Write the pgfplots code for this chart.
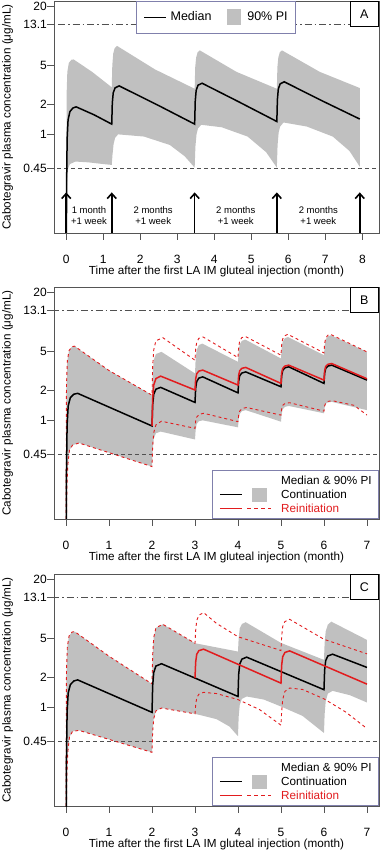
\documentclass[border=0pt]{standalone}
\usepackage{pgfplots}
\pgfplotsset{compat=1.18}
\usetikzlibrary{arrows.meta}
\usepackage{fontspec}
\setmainfont{Liberation Sans}

\definecolor{band}{RGB}{192,192,192}
\definecolor{rred}{RGB}{226,28,30}
\definecolor{legframe}{RGB}{128,128,172}
\definecolor{refline}{RGB}{80,80,80}
\definecolor{axframe}{RGB}{85,85,85}

\tikzset{
  refln/.style={refline, line width=0.8pt},
  medln/.style={line width=1.5pt},
  pidash/.style={rred, line width=0.9pt, dash pattern=on 3pt off 3pt},
  shotarrow/.style={black, line width=1.6pt, -{Straight Barb[length=5pt,width=9pt]}},
  paneltag/.style={draw=black, line width=0.8pt, fill=white, minimum width=28.5pt,
    minimum height=25.5pt, inner sep=0pt, font=\fontsize{12.5}{14}\selectfont},
  gap/.style={font=\fontsize{9.5}{10.7}\selectfont, align=center},
}

\begin{document}
\begin{tikzpicture}
\useasboundingbox (0pt,0pt) rectangle (380pt,850pt);

% ---------------- Panel A: loading dose then every 2 months + 1 week
\begin{axis}[at={(54pt,617pt)}, anchor=south west,
  scale only axis, width=325pt, height=232pt,
  ymode=log, ymin=0.1, ymax=22.5,
  ytick={0.45,1,2,5,13.1,20}, yticklabels={0.45,1,2,5,13.1,20},
  yminorticks=false,
  xmin=-0.33, xmax=8.45, xtick={0,1,2,3,4,5,6,7,8}, xticklabels={0,1,2,3,4,5,6,7,8},
  tick align=outside, major tick length=7pt,
  xtick pos=bottom, ytick pos=left,
  axis line style={axframe, line width=0.8pt},
  major tick style={axframe, line width=0.8pt},
  tick label style={font=\fontsize{12}{14}\selectfont},
  xticklabel style={inner sep=0pt, anchor=north, yshift=-15pt},
  yticklabel style={inner sep=0pt, anchor=east},
  xlabel style={font=\fontsize{11.7}{14}\selectfont, at={(axis description cs:0.5,-0.166)}, anchor=center},
  ylabel style={font=\fontsize{11.7}{14}\selectfont, at={(axis description cs:-0.143,0.5)}, anchor=center},
  xlabel={Time after the first LA IM gluteal injection (month)},
  ylabel={Cabotegravir plasma concentration (μg/mL)},
  legend columns=2,
  legend style={at={(0.497,1)}, anchor=north, draw=legframe, line width=0.8pt,
    fill=white, font=\fontsize{12.5}{15}\selectfont,
    inner xsep=7.3pt, inner ysep=8pt, column sep=0pt,
    /tikz/every odd column/.append style={column sep=4.3pt},
    /tikz/every even column/.append style={column sep=15pt},
    nodes={inner sep=0pt, text height=9pt, text depth=2.5pt}},
]
\addlegendimage{legend image code/.code={\draw[draw=black,line width=1.6pt,solid] (0pt,0pt) -- (21.3pt,0pt);}}
\addlegendentry{Median}
\addlegendimage{legend image code/.code={\path[draw=none,fill=none] (0pt,0pt) -- (16.4pt,0pt);
  \path[draw=none,fill=band] (0pt,-8pt) rectangle (14pt,8pt);}}
\addlegendentry{90\% PI}

% 90% prediction interval: upper bound, then lower bound backwards
\addplot[fill=band, draw=none, forget plot] coordinates {
 (0,0.1) (0.01,2.5) (0.03,4.3) (0.07,5.3) (0.14,5.7) (0.2,5.75) (0.7,4.3) (1.23,3.0)
 (1.245,5.0) (1.27,6.6) (1.31,7.5) (1.37,7.9) (2.4,4.55) (3.47,2.9)
 (3.485,4.8) (3.51,6.0) (3.55,6.8) (3.61,7.1) (4.6,4.3) (5.69,2.9)
 (5.705,4.8) (5.73,6.0) (5.77,6.8) (5.83,7.1) (6.85,4.3) (7.93,2.95)
 (7.93,0.47) (7.65,0.68) (7.2,0.95) (6.5,1.2) (5.87,1.32) (5.78,1.2) (5.74,1.05) (5.71,0.78)
 (5.69,0.46) (5.4,0.66) (4.9,0.95) (4.2,1.18) (3.65,1.25) (3.56,1.15) (3.52,1.0) (3.49,0.75)
 (3.47,0.46) (3.2,0.6) (2.8,0.78) (2.1,0.95) (1.4,1.0) (1.32,0.92) (1.28,0.8) (1.25,0.62)
 (1.23,0.49) (1.0,0.5) (0.6,0.52) (0.25,0.53) (0.1,0.5) (0.05,0.45) (0.02,0.3) (0,0.05)} -- cycle;

\addplot[refln, dash pattern=on 7pt off 3pt on 1.5pt off 3pt, forget plot] coordinates {(-1,13.1) (9,13.1)};
\addplot[refln, dash pattern=on 4pt off 3pt, forget plot] coordinates {(-1,0.45) (9,0.45)};

\addplot[medln, black, forget plot] coordinates {
 (0,0.02) (0.01,0.3) (0.025,0.9) (0.05,1.4) (0.1,1.7) (0.18,1.85) (0.27,1.9) (0.75,1.58) (1.23,1.27)
 (1.245,2.07) (1.27,2.64) (1.32,2.96) (1.43,3.1) (2.45,2.0) (3.47,1.27)
 (3.485,2.15) (3.51,2.78) (3.56,3.15) (3.67,3.3) (4.68,2.12) (5.69,1.35)
 (5.705,2.25) (5.73,2.89) (5.78,3.25) (5.89,3.41) (6.9,2.2) (7.93,1.43)};

% injection times
\addplot[shotarrow, forget plot] coordinates {(0,0.1) (0,0.258)};
\addplot[shotarrow, forget plot] coordinates {(1.23,0.1) (1.23,0.258)};
\addplot[shotarrow, forget plot] coordinates {(3.47,0.1) (3.47,0.258)};
\addplot[shotarrow, forget plot] coordinates {(5.69,0.1) (5.69,0.258)};
\addplot[shotarrow, forget plot] coordinates {(7.93,0.1) (7.93,0.258)};

\node[gap] at (axis cs:0.615,0.149) {1 month\\+1 week};
\node[gap] at (axis cs:2.35,0.149) {2 months\\+1 week};
\node[gap] at (axis cs:4.58,0.149) {2 months\\+1 week};
\node[gap] at (axis cs:6.81,0.149) {2 months\\+1 week};
\node[paneltag, anchor=north east] at (rel axis cs:1,1) {A};
\end{axis}

% ---------------- Panel B: monthly dosing, continuation vs reinitiation
\begin{axis}[at={(54pt,331pt)}, anchor=south west,
  scale only axis, width=325pt, height=232pt,
  ymode=log, ymin=0.1, ymax=22.5,
  ytick={0.45,1,2,5,13.1,20}, yticklabels={0.45,1,2,5,13.1,20},
  yminorticks=false,
  xmin=-0.28, xmax=7.28, xtick={0,1,2,3,4,5,6,7}, xticklabels={0,1,2,3,4,5,6,7},
  tick align=outside, major tick length=7pt,
  xtick pos=bottom, ytick pos=left,
  axis line style={axframe, line width=0.8pt},
  major tick style={axframe, line width=0.8pt},
  tick label style={font=\fontsize{12}{14}\selectfont},
  xticklabel style={inner sep=0pt, anchor=north, yshift=-15pt},
  yticklabel style={inner sep=0pt, anchor=east},
  xlabel style={font=\fontsize{11.7}{14}\selectfont, at={(axis description cs:0.5,-0.166)}, anchor=center},
  ylabel style={font=\fontsize{11.7}{14}\selectfont, at={(axis description cs:-0.143,0.5)}, anchor=center},
  xlabel={Time after the first LA IM gluteal injection (month)},
  ylabel={Cabotegravir plasma concentration (μg/mL)},
  legend cell align=left,
  legend style={at={(1,0)}, anchor=south east, draw=legframe, line width=0.8pt,
    fill=white, font=\fontsize{11.7}{14}\selectfont,
    inner xsep=7pt, inner ysep=3pt, row sep=0pt, column sep=0pt,
    /tikz/every odd column/.append style={column sep=10pt},
    nodes={inner sep=0pt, text height=10.5pt, text depth=3.5pt}},
]
\addlegendimage{empty legend}
\addlegendentry{Median \& 90\% PI}
\addlegendimage{legend image code/.code={\draw[draw=black,line width=1.6pt,solid] (0pt,0pt) -- (22.6pt,0pt);
  \path[draw=none,fill=band] (32pt,-7pt) rectangle (47.6pt,7pt);
  \path[draw=none,fill=none] (0pt,0pt) -- (51pt,0pt);}}
\addlegendentry{Continuation}
\addlegendimage{legend image code/.code={\draw[draw=rred,line width=1.6pt,solid] (0pt,0pt) -- (22.6pt,0pt);
  \draw[draw=rred,line width=0.9pt,dash pattern=on 3.5pt off 3.5pt] (27.3pt,0pt) -- (51pt,0pt);}}
\addlegendentry{\textcolor{rred}{Reinitiation}}

% continuation 90% PI: upper bound, then lower bound backwards
\addplot[fill=band, draw=none, forget plot] coordinates {
 (0,0.1) (0.01,2.2) (0.03,4.0) (0.07,5.1) (0.14,5.6) (0.2,5.65) (1.0,3.2) (2,1.8)
 (2.015,3.0) (2.04,4.1) (2.09,4.7) (2.22,4.95) (3,2.99)
 (3.015,4.2) (3.04,5.2) (3.09,5.8) (3.17,6.0) (4,3.92)
 (4.015,5.0) (4.04,5.9) (4.09,6.4) (4.17,6.59) (5,4.24)
 (5.015,5.4) (5.04,6.3) (5.09,6.8) (5.16,7.0) (6,4.58)
 (6.015,5.7) (6.04,6.6) (6.09,7.1) (6.16,7.3) (7,4.95)
 (7,1.27) (6.18,1.54) (6.09,1.52) (6.04,1.47) (6.015,1.35) (6,1.18)
 (5.18,1.4) (5.09,1.37) (5.04,1.3) (5.015,1.15) (5,0.97)
 (4.18,1.27) (4.09,1.24) (4.04,1.16) (4.015,1.02) (4,0.85)
 (3.18,1.0) (3.09,0.98) (3.04,0.92) (3.015,0.8) (3,0.64)
 (2.2,0.77) (2.09,0.74) (2.04,0.65) (2.015,0.5) (2,0.34)
 (0.3,0.59) (0.15,0.56) (0.08,0.5) (0.04,0.35) (0.02,0.2) (0,0.05)} -- cycle;

\addplot[refln, dash pattern=on 7pt off 3pt on 1.5pt off 3pt, forget plot] coordinates {(-1,13.1) (9,13.1)};
\addplot[refln, dash pattern=on 4pt off 3pt, forget plot] coordinates {(-1,0.45) (9,0.45)};

% reinitiation 90% PI
\addplot[pidash, forget plot] coordinates {
 (0,0.1) (0.01,2.2) (0.03,4.0) (0.07,5.1) (0.14,5.6) (0.2,5.65) (1.0,3.2) (2,1.8)
 (2.015,3.5) (2.04,5.2) (2.09,6.4) (2.25,6.9) (3,4.07)
 (3.015,5.3) (3.04,6.2) (3.09,6.8) (3.19,7.0) (4,4.33)
 (4.015,5.5) (4.04,6.4) (4.09,6.9) (4.17,7.1) (5,4.58)
 (5.015,5.8) (5.04,6.7) (5.09,7.2) (5.16,7.46) (6,4.83)
 (6.015,6.0) (6.04,6.8) (6.09,7.3) (6.15,7.46) (7,4.95)};
\addplot[pidash, forget plot] coordinates {
 (0,0.05) (0.02,0.2) (0.04,0.35) (0.08,0.5) (0.15,0.56) (0.3,0.59) (2,0.34)
 (2.015,0.55) (2.04,0.75) (2.09,0.9) (2.22,0.98) (3,0.83)
 (3.015,0.98) (3.04,1.08) (3.1,1.15) (3.2,1.18) (4,0.97)
 (4.015,1.12) (4.04,1.24) (4.1,1.32) (4.2,1.35) (5,1.13)
 (5.015,1.3) (5.04,1.42) (5.1,1.49) (5.2,1.51) (6,1.24)
 (6.015,1.4) (6.04,1.5) (6.1,1.56) (6.2,1.58) (6.7,1.42) (7,1.13)};

\addplot[medln, black, forget plot] coordinates {
 (0,0.02) (0.01,0.3) (0.025,0.9) (0.05,1.4) (0.1,1.7) (0.18,1.84) (0.27,1.88) (2,0.877)
 (2.015,1.44) (2.04,1.84) (2.09,2.07) (2.2,2.16) (3,1.52)
 (3.015,2.11) (3.04,2.48) (3.09,2.68) (3.18,2.76) (4,1.9)
 (4.015,2.49) (4.04,2.84) (4.09,3.02) (4.18,3.1) (5,2.19)
 (5.015,2.83) (5.04,3.21) (5.09,3.41) (5.18,3.49) (6,2.37)
 (6.015,3.0) (6.04,3.36) (6.09,3.55) (6.18,3.63) (7,2.56)};
\addplot[medln, rred, forget plot] coordinates {
 (2,0.877) (2.015,1.66) (2.04,2.28) (2.09,2.65) (2.2,2.81) (3,2.03)
 (3.015,2.62) (3.04,2.97) (3.09,3.16) (3.18,3.23) (4,2.28)
 (4.015,2.86) (4.04,3.19) (4.09,3.37) (4.18,3.44) (5,2.37)
 (5.015,3.0) (5.04,3.36) (5.09,3.55) (5.18,3.63) (6,2.56)
 (6.015,3.17) (6.04,3.52) (6.09,3.7) (6.18,3.77) (7,2.64)};
\node[paneltag, anchor=north east] at (rel axis cs:1,1) {B};
\end{axis}

% ---------------- Panel C: every 2 months, continuation vs reinitiation
\begin{axis}[at={(54pt,44pt)}, anchor=south west,
  scale only axis, width=325pt, height=232pt,
  ymode=log, ymin=0.1, ymax=22.5,
  ytick={0.45,1,2,5,13.1,20}, yticklabels={0.45,1,2,5,13.1,20},
  yminorticks=false,
  xmin=-0.28, xmax=7.28, xtick={0,1,2,3,4,5,6,7}, xticklabels={0,1,2,3,4,5,6,7},
  tick align=outside, major tick length=7pt,
  xtick pos=bottom, ytick pos=left,
  axis line style={axframe, line width=0.8pt},
  major tick style={axframe, line width=0.8pt},
  tick label style={font=\fontsize{12}{14}\selectfont},
  xticklabel style={inner sep=0pt, anchor=north, yshift=-15pt},
  yticklabel style={inner sep=0pt, anchor=east},
  xlabel style={font=\fontsize{11.7}{14}\selectfont, at={(axis description cs:0.5,-0.166)}, anchor=center},
  ylabel style={font=\fontsize{11.7}{14}\selectfont, at={(axis description cs:-0.143,0.5)}, anchor=center},
  xlabel={Time after the first LA IM gluteal injection (month)},
  ylabel={Cabotegravir plasma concentration (μg/mL)},
  legend cell align=left,
  legend style={at={(1,0)}, anchor=south east, draw=legframe, line width=0.8pt,
    fill=white, font=\fontsize{11.7}{14}\selectfont,
    inner xsep=7pt, inner ysep=3pt, row sep=0pt, column sep=0pt,
    /tikz/every odd column/.append style={column sep=10pt},
    nodes={inner sep=0pt, text height=10.5pt, text depth=3.5pt}},
]
\addlegendimage{empty legend}
\addlegendentry{Median \& 90\% PI}
\addlegendimage{legend image code/.code={\draw[draw=black,line width=1.6pt,solid] (0pt,0pt) -- (22.6pt,0pt);
  \path[draw=none,fill=band] (32pt,-7pt) rectangle (47.6pt,7pt);
  \path[draw=none,fill=none] (0pt,0pt) -- (51pt,0pt);}}
\addlegendentry{Continuation}
\addlegendimage{legend image code/.code={\draw[draw=rred,line width=1.6pt,solid] (0pt,0pt) -- (22.6pt,0pt);
  \draw[draw=rred,line width=0.9pt,dash pattern=on 3.5pt off 3.5pt] (27.3pt,0pt) -- (51pt,0pt);}}
\addlegendentry{\textcolor{rred}{Reinitiation}}

% continuation 90% PI: upper bound, then lower bound backwards
\addplot[fill=band, draw=none, forget plot] coordinates {
 (0,0.1) (0.01,2.3) (0.03,4.1) (0.07,5.3) (0.14,5.8) (0.2,5.87) (1.0,3.3) (2,1.73)
 (2.015,3.4) (2.04,5.1) (2.09,6.4) (2.25,6.96) (3,4.47) (4,3.68)
 (4.015,5.0) (4.04,6.3) (4.09,7.0) (4.18,7.3) (5,4.5) (6,3.03)
 (6.015,4.5) (6.04,5.9) (6.09,6.9) (6.17,7.4) (7,4.83)
 (7,1.12) (6.6,1.33) (6.2,1.47) (6.09,1.38) (6.04,1.15) (6.015,0.85) (6,0.55)
 (5.5,0.82) (5,1.02) (4.6,1.2) (4.2,1.29) (4.09,1.22) (4.04,1.05) (4.015,0.8) (4,0.51)
 (3.8,0.64) (3.5,0.76) (3,0.86) (2.22,0.985) (2.09,0.92) (2.04,0.77) (2.015,0.57) (2,0.35)
 (0.3,0.585) (0.15,0.57) (0.08,0.5) (0.04,0.35) (0.02,0.2) (0,0.05)} -- cycle;

\addplot[refln, dash pattern=on 7pt off 3pt on 1.5pt off 3pt, forget plot] coordinates {(-1,13.1) (9,13.1)};
\addplot[refln, dash pattern=on 4pt off 3pt, forget plot] coordinates {(-1,0.45) (9,0.45)};

% reinitiation 90% PI
\addplot[pidash, forget plot] coordinates {
 (0,0.1) (0.01,2.3) (0.03,4.1) (0.07,5.3) (0.14,5.8) (0.2,5.87) (1.0,3.3) (2,1.73)
 (2.015,3.4) (2.04,5.1) (2.09,6.4) (2.25,6.96) (3,4.47)
 (3.015,6.0) (3.04,7.6) (3.09,8.6) (3.2,9.13) (3.5,7.1) (4,5.2) (5,3.77)
 (5.015,5.2) (5.04,6.6) (5.09,7.4) (5.2,7.82) (6,4.9) (7,3.49)};
\addplot[pidash, forget plot] coordinates {
 (0,0.05) (0.02,0.2) (0.04,0.35) (0.08,0.5) (0.15,0.57) (0.3,0.585) (2,0.35)
 (2.015,0.57) (2.04,0.77) (2.09,0.92) (2.22,0.985) (3,0.86)
 (3.015,1.05) (3.04,1.25) (3.09,1.36) (3.2,1.42) (3.5,1.38) (4,1.2) (4.5,0.95) (5,0.66)
 (5.015,0.9) (5.04,1.2) (5.09,1.45) (5.2,1.57) (5.5,1.52) (6,1.22) (6.5,0.9) (7,0.61)};

\addplot[medln, black, forget plot] coordinates {
 (0,0.02) (0.01,0.3) (0.025,0.9) (0.05,1.4) (0.1,1.7) (0.18,1.85) (0.27,1.9) (2,0.89)
 (2.015,1.66) (2.04,2.26) (2.09,2.62) (2.22,2.77) (4,1.29)
 (4.015,2.14) (4.04,2.74) (4.09,3.08) (4.2,3.23) (6,1.51)
 (6.015,2.38) (6.04,2.98) (6.09,3.32) (6.2,3.46) (7,2.54)};
\addplot[medln, rred, forget plot] coordinates {
 (3,1.98) (3.015,2.87) (3.04,3.45) (3.09,3.76) (3.2,3.89) (5,1.76)
 (5.015,2.66) (5.04,3.26) (5.09,3.6) (5.2,3.74) (7,1.72)};
\node[paneltag, anchor=north east] at (rel axis cs:1,1) {C};
\end{axis}
\end{tikzpicture}
\end{document}
